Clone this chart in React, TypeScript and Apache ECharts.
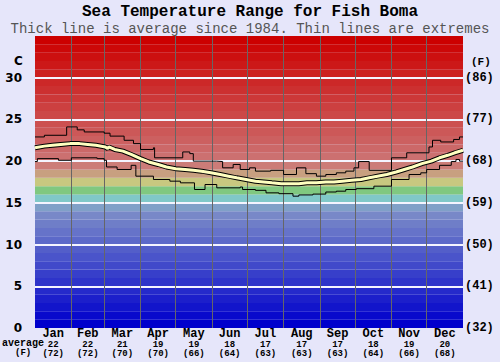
import React, { useEffect, useRef } from 'react';
import * as echarts from 'echarts';

const months = ['Jan', 'Feb', 'Mar', 'Apr', 'May', 'Jun', 'Jul', 'Aug', 'Sep', 'Oct', 'Nov', 'Dec'];
const monthAvgC = ['22', '22', '21', '19', '19', '18', '17', '17', '17', '18', '19', '20'];
const monthAvgF = ['(72)', '(72)', '(70)', '(70)', '(66)', '(64)', '(63)', '(63)', '(63)', '(64)', '(66)', '(68)'];
const monthStartDays = [0, 31, 59, 90, 120, 151, 181, 212, 243, 273, 304, 334, 365];
const celsiusTicks = ['0', '5', '10', '15', '20', '25', '30'];
const fahrenheitTicks = ['(32)', '(41)', '(50)', '(59)', '(68)', '(77)', '(86)'];

// [day of year, °C]
const averageLine: [number, number][] = [
  [0, 21.6], [8, 21.8], [15, 21.9], [22, 22.0], [30, 22.1], [38, 22.1], [45, 22.0], [52, 21.9],
  [60, 21.7], [62, 21.5], [63, 21.7], [68, 21.4], [75, 21.2], [82, 20.8], [90, 20.3],
  [97, 19.9], [105, 19.6], [112, 19.3], [120, 19.1], [128, 19.0], [135, 18.9], [142, 18.8],
  [150, 18.6], [158, 18.4], [165, 18.2], [172, 18.0], [180, 17.8], [188, 17.6], [195, 17.5],
  [202, 17.4], [210, 17.3], [218, 17.3], [225, 17.3], [232, 17.4], [240, 17.4], [248, 17.5],
  [255, 17.5], [262, 17.6], [270, 17.7], [278, 17.8], [285, 18.0], [292, 18.2], [300, 18.4],
  [308, 18.7], [315, 19.0], [322, 19.3], [330, 19.7], [338, 20.0], [345, 20.4], [352, 20.7],
  [358, 21.0], [365, 21.3]
];

const maxLine: [number, number][] = [
  [0, 22.9], [8, 23.1], [27, 24.1], [36, 23.75], [42, 23.5], [59, 23.35], [64, 23.0],
  [76, 22.5], [84, 22.1], [90, 21.4], [101, 21.6], [102, 20.4], [126, 21.1], [132, 20.9],
  [135, 20.0], [155, 19.95], [160, 19.2], [169, 19.6], [175, 19.0], [183, 19.2], [188, 18.8],
  [201, 18.9], [212, 18.4], [223, 19.2], [231, 18.5], [240, 18.2], [248, 18.4], [257, 18.6],
  [265, 18.8], [272, 19.2], [276, 19.95], [285, 18.9], [304, 20.4], [317, 21.0], [336, 21.7],
  [339, 22.5], [346, 22.3], [357, 22.6], [362, 22.9], [365, 22.9]
];

const minLine: [number, number][] = [
  [0, 19.95], [2, 20.3], [20, 20.1], [31, 20.4], [53, 20.3], [59, 20.1], [61, 19.3],
  [70, 19.0], [82, 19.5], [86, 18.2], [101, 17.8], [115, 17.6], [124, 17.4], [136, 16.6],
  [145, 17.2], [155, 16.8], [175, 16.9], [177, 16.6], [188, 16.5], [197, 16.2], [208, 16.1],
  [220, 15.8], [225, 15.95], [237, 16.05], [248, 16.3], [257, 16.4], [265, 16.6], [274, 16.7],
  [289, 17.0], [304, 17.8], [319, 18.4], [329, 18.6], [334, 19.0], [345, 19.5], [355, 19.95],
  [359, 20.2], [362, 20.0], [365, 20.0]
];

function bandColor(t: number): string {
  if (t >= 20) {
    const g = Math.round((112 * (34 - t)) / 14);
    return `rgb(204,${g},${g})`;
  }
  const fixed: Record<number, string> = {
    19: 'rgb(204,124,120)',
    18: 'rgb(200,160,128)',
    17: 'rgb(200,200,128)',
    16: 'rgb(128,200,128)',
    15: 'rgb(128,200,200)',
    14: 'rgb(128,160,200)',
  };
  if (fixed[t]) return fixed[t];
  const r = Math.round((120 * t) / 13);
  const g = Math.round((136 * t) / 13);
  const b = Math.round(204 - (4 * t) / 13);
  return `rgb(${r},${g},${b})`;
}

const MONO = '"Liberation Mono", "Courier New", monospace';
const SANS = '"DejaVu Sans", Verdana, sans-serif';

export default function App() {
  const ref = useRef<HTMLDivElement>(null);

  useEffect(() => {
    if (!ref.current) return;
    const chart = echarts.init(ref.current, undefined, { renderer: 'svg' });

    const bands: any[] = [];
    for (let t = 0; t < 35; t++) {
      bands.push([{ yAxis: t, itemStyle: { color: bandColor(t) } }, { yAxis: t + 1 }]);
    }
    const whiteLines = [5, 10, 15, 20, 25, 30].map((v) => ({
      yAxis: v,
      lineStyle: { color: '#f4f4ff', width: 2, type: 'solid' },
    }));
    const monthLines = monthStartDays.slice(1, 12).map((d) => ({
      xAxis: d,
      lineStyle: { color: '#666666', width: 1, type: 'solid' },
    }));
    const monthMid = months.map((_, i) => (monthStartDays[i] + monthStartDays[i + 1]) / 2);

    chart.setOption({
      animation: false,
      backgroundColor: '#e6e6fa',
      title: [
        {
          text: 'Sea Temperature Range for Fish Boma',
          left: 'center',
          top: 4,
          padding: 0,
          textStyle: { fontFamily: MONO, fontWeight: 'bold', fontSize: 16, lineHeight: 16, color: '#000' },
        },
        {
          text: 'Thick line is average since 1984. Thin lines are extremes',
          left: 'center',
          top: 21.5,
          padding: 0,
          textStyle: { fontFamily: MONO, fontWeight: 'normal', fontSize: 14, lineHeight: 14, color: '#555' },
        },
      ],
      grid: { left: 35, right: 37, top: 36, bottom: 34, containLabel: false },
      xAxis: {
        type: 'value',
        min: 0,
        max: 365,
        axisLine: { show: false },
        axisTick: { show: false },
        splitLine: { show: false },
        axisLabel: {
          customValues: monthMid,
          margin: 0,
          formatter: (v: number) => {
            const i = monthMid.findIndex((m) => Math.abs(m - v) < 0.01);
            if (i < 0) return '';
            return `{m|${months[i]}}\n{n|${monthAvgC[i]}}\n{n|${monthAvgF[i]}}`;
          },
          rich: {
            m: { fontFamily: MONO, fontWeight: 'bold', fontSize: 12, lineHeight: 12, color: '#000' },
            n: { fontFamily: MONO, fontWeight: 'bold', fontSize: 9, lineHeight: 9, color: '#000' },
          },
        },
      },
      yAxis: [
        {
          type: 'value',
          min: 0,
          max: 35,
          interval: 5,
          position: 'left',
          axisLine: { show: false },
          axisTick: { show: false },
          splitLine: { show: false },
          axisLabel: {
            margin: 13,
            fontFamily: SANS,
            fontWeight: 'bold',
            fontSize: 12,
            color: '#000',
            formatter: (v: number) => celsiusTicks[v / 5] ?? '',
          },
        },
        {
          type: 'value',
          min: 0,
          max: 35,
          interval: 5,
          position: 'right',
          axisLine: { show: false },
          axisTick: { show: false },
          splitLine: { show: false },
          axisLabel: {
            margin: 2,
            fontFamily: MONO,
            fontWeight: 'bold',
            fontSize: 12,
            color: '#000',
            formatter: (v: number) => fahrenheitTicks[v / 5] ?? '',
          },
        },
      ],
      graphic: [
        { type: 'text', left: 14, top: 55, style: { text: 'C', font: `bold 12px ${SANS}`, fill: '#000' } },
        { type: 'text', left: 471, top: 56, style: { text: '(F)', font: `bold 11px ${MONO}`, fill: '#000' } },
        { type: 'text', left: 2, top: 338, style: { text: 'average', font: `bold 10px ${MONO}`, fill: '#000' } },
        { type: 'text', left: 15, top: 348, style: { text: '(F)', font: `bold 9px ${MONO}`, fill: '#000' } },
      ],
      series: [
        {
          type: 'line',
          name: 'bands',
          data: [],
          silent: true,
          markArea: { silent: true, z: 1, data: bands },
          markLine: {
            silent: true,
            z: 2,
            symbol: 'none',
            label: { show: false },
            data: [...whiteLines, ...monthLines],
          },
        },
        {
          type: 'line',
          name: 'max',
          data: maxLine,
          step: 'end',
          symbol: 'none',
          z: 10,
          lineStyle: { color: '#000', width: 1 },
        },
        {
          type: 'line',
          name: 'min',
          data: minLine,
          step: 'end',
          symbol: 'none',
          z: 10,
          lineStyle: { color: '#000', width: 1 },
        },
        {
          type: 'line',
          name: 'avgOutline',
          data: averageLine,
          symbol: 'none',
          z: 11,
          lineStyle: { color: '#000', width: 5 },
        },
        {
          type: 'line',
          name: 'average',
          data: averageLine,
          symbol: 'none',
          z: 12,
          lineStyle: { color: '#ffffc0', width: 3 },
        },
      ],
    });

    return () => chart.dispose();
  }, []);

  return (
    <div
      ref={ref}
      style={{ position: 'fixed', left: 0, top: 0, width: 500, height: 362, background: '#e6e6fa' }}
    />
  );
}
